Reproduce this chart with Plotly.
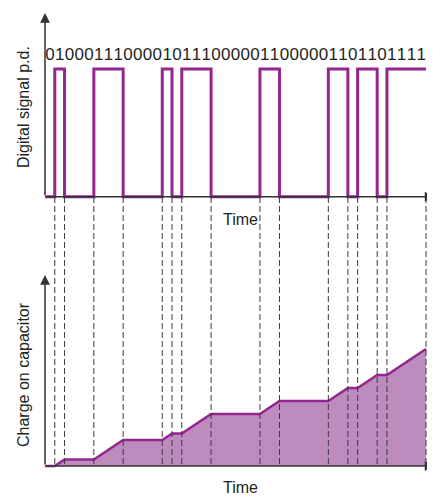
import plotly.graph_objects as go

# ---- data ----
bits = [0,1,0,0,0,1,1,1,0,0,0,0,1,0,1,1,1,0,0,0,0,0,1,1,0,0,0,0,0,1,1,0,1,1,0,1,1,1,1]
transition_times = [1,2,5,8,12,13,14,17,22,24,29,31,32,34,35,39]
charge_times = [0,1,2,5,8,12,13,14,17,22,24,29,31,32,34,35,39]
charge_values = [0,0,1,1,4,4,5,5,8,8,10,10,12,12,14,14,18]

# the page body has an 8px margin, so the figure is drawn 8px in from the top-left
OFF = 8
W, H = 435 - OFF, 496 - OFF
PURPLE = "#93278F"
FILL = "#BE8BBE"
AX = "#333333"
FONT = "Liberation Sans, Arial, sans-serif"


def px(x):
    return (x - OFF) / W


def py(y):
    return 1 - (y - OFF) / H


px_per_t = 9.77
t0 = -(45 - OFF) / px_per_t
t1 = t0 + W / px_per_t
# top axis: 0 -> ref 196.7px, 1 -> ref 69px
s_top = 196.7 - 69.0
y1_hi = (196.7 - OFF) / s_top
y1_lo = y1_hi - H / s_top
# bottom axis: 0 -> ref 466px, 6.5px per unit
s_bot = 6.5
y2_hi = (466 - OFF) / s_bot
y2_lo = y2_hi - H / s_bot

fig = go.Figure()

# charge area
fig.add_trace(go.Scatter(
    x=charge_times, y=charge_values, yaxis="y2", mode="lines",
    line=dict(color=PURPLE, width=2.5), fill="tozeroy", fillcolor=FILL,
    hoverinfo="skip"))

# digital signal
sig_x = list(range(len(bits) + 1))
sig_y = bits + [bits[-1]]
fig.add_trace(go.Scatter(
    x=sig_x, y=sig_y, mode="lines", line=dict(color=PURPLE, width=3, shape="hv"),
    hoverinfo="skip"))

# bit labels
fig.add_trace(go.Scatter(
    x=[i + 0.5 for i in range(len(bits))], y=[(196.7 - 56) / s_top] * len(bits), mode="text",
    text=[str(b) for b in bits], textfont=dict(family=FONT, size=17, color="#231F20"),
    hoverinfo="skip"))

# dashed vertical lines
for t in transition_times:
    fig.add_shape(type="line", xref="x", yref="paper", x0=t, x1=t,
                  y0=py(197), y1=py(466),
                  line=dict(color="#3a3a3a", width=1, dash="6px,3px"), layer="above")

anns = []
arrow = dict(showarrow=True, arrowhead=2, arrowsize=1.3, arrowwidth=1.5, arrowcolor=AX, text="")
anns.append(dict(x=0, y=(196.7 - 13) / s_top, ax=0, ay=0, xref="x", yref="y", axref="x", ayref="y", **arrow))
anns.append(dict(x=t1 - 0.05, y=0, ax=0, ay=0, xref="x", yref="y", axref="x", ayref="y", **arrow))
anns.append(dict(x=0, y=(466 - 275) / s_bot, ax=0, ay=0, xref="x", yref="y2", axref="x", ayref="y2", **arrow))
anns.append(dict(x=t1 - 0.05, y=0, ax=0, ay=0, xref="x", yref="y2", axref="x", ayref="y2", **arrow))

lab_font = dict(family=FONT, size=16, color="#231F20")
anns.append(dict(x=px(240), y=py(220), xref="paper", yref="paper", text="Time",
                 showarrow=False, font=lab_font, xanchor="center", yanchor="middle"))
anns.append(dict(x=px(240), y=py(487), xref="paper", yref="paper", text="Time",
                 showarrow=False, font=lab_font, xanchor="center", yanchor="middle"))
anns.append(dict(x=px(23), y=py(107), xref="paper", yref="paper", text="Digital signal p.d.",
                 showarrow=False, font=lab_font, textangle=-90, xanchor="center", yanchor="middle"))
anns.append(dict(x=px(23), y=py(375), xref="paper", yref="paper", text="Charge on capacitor",
                 showarrow=False, font=lab_font, textangle=-90, xanchor="center", yanchor="middle"))

fig.update_layout(
    width=W, height=H, margin=dict(l=0, r=0, t=0, b=0),
    paper_bgcolor="white", plot_bgcolor="white", showlegend=False,
    xaxis=dict(range=[t0, t1], visible=False, fixedrange=True),
    yaxis=dict(range=[y1_lo, y1_hi], visible=False, domain=[0, 1], fixedrange=True),
    yaxis2=dict(range=[y2_lo, y2_hi], visible=False, overlaying="y", fixedrange=True),
    annotations=anns,
)

fig.write_html("out.html")
